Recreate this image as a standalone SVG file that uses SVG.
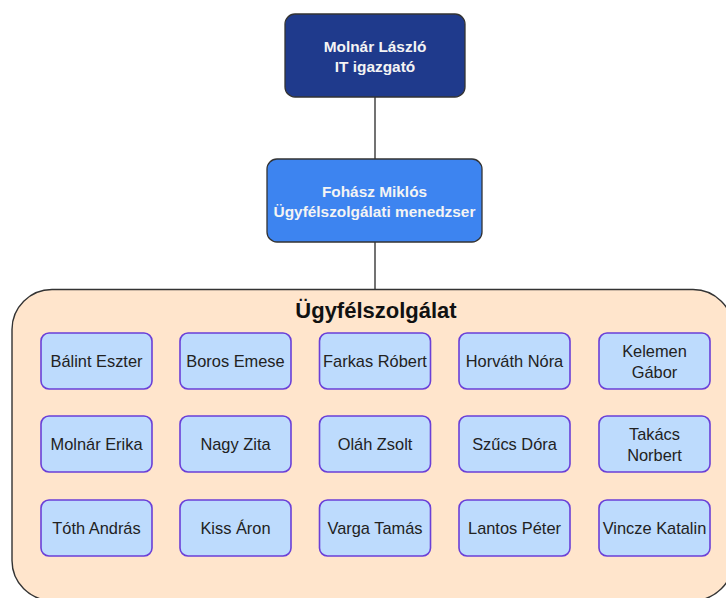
<svg xmlns="http://www.w3.org/2000/svg" width="726" height="598" viewBox="0 0 726 598">
  <style>
    .lead { stroke: #333333; stroke-width: 1.3; }
    .lead-text { font-family: "Liberation Sans", Arial, sans-serif; font-size: 15.4px; font-weight: bold; fill: #f4f4f4; text-anchor: middle; }
    .member rect { fill: #bddbfd; stroke: #6a3fd8; stroke-width: 1.6; }
    .member text { font-family: "Liberation Sans", Arial, sans-serif; font-size: 16.4px; fill: #222222; text-anchor: middle; }
    .edge { stroke: #444444; stroke-width: 1.5; fill: none; }
  </style>

  <!-- connectors -->
  <g id="connectors">
    <line class="edge" x1="375" y1="97" x2="375" y2="159"/>
    <line class="edge" x1="375" y1="242" x2="375" y2="289"/>
  </g>

  <!-- team container -->
  <g id="team">
    <rect x="12" y="289.5" width="721" height="311" rx="40" ry="40" fill="#ffe5cc" stroke="#333333" stroke-width="1.4"/>
    <text x="376" y="318" font-family="'Liberation Sans', Arial, sans-serif" font-size="22px" font-weight="bold" fill="#111111" text-anchor="middle">Ügyfélszolgálat</text>
  </g>

  <g id="director">
    <rect class="lead" x="285" y="14" width="180" height="83" rx="10" ry="10" fill="#1f3a8c"/>
    <text class="lead-text" x="375" y="52">Molnár László</text>
    <text class="lead-text" x="375" y="72">IT igazgató</text>
  </g>

  <g id="manager">
    <rect class="lead" x="267" y="159" width="215" height="83" rx="10" ry="10" fill="#3d84f0"/>
    <text class="lead-text" x="374.5" y="197">Fohász Miklós</text>
    <text class="lead-text" x="374.5" y="217">Ügyfélszolgálati menedzser</text>
  </g>

  <!-- row 1 -->
  <g id="balint-eszter" class="member"><rect x="41" y="333" width="111" height="56" rx="8"/><text x="96.5" y="367">Bálint Eszter</text></g>
  <g id="boros-emese" class="member"><rect x="180" y="333" width="111" height="56" rx="8"/><text x="235.5" y="367">Boros Emese</text></g>
  <g id="farkas-robert" class="member"><rect x="319.5" y="333" width="111" height="56" rx="8"/><text x="375" y="367">Farkas Róbert</text></g>
  <g id="horvath-nora" class="member"><rect x="459" y="333" width="111" height="56" rx="8"/><text x="514.5" y="367">Horváth Nóra</text></g>
  <g id="kelemen-gabor" class="member"><rect x="599" y="333" width="111" height="56" rx="8"/><text x="654.5" y="357">Kelemen</text><text x="654.5" y="378">Gábor</text></g>

  <!-- row 2 -->
  <g id="molnar-erika" class="member"><rect x="41" y="416" width="111" height="56" rx="8"/><text x="96.5" y="450">Molnár Erika</text></g>
  <g id="nagy-zita" class="member"><rect x="180" y="416" width="111" height="56" rx="8"/><text x="235.5" y="450">Nagy Zita</text></g>
  <g id="olah-zsolt" class="member"><rect x="319.5" y="416" width="111" height="56" rx="8"/><text x="375" y="450">Oláh Zsolt</text></g>
  <g id="szucs-dora" class="member"><rect x="459" y="416" width="111" height="56" rx="8"/><text x="514.5" y="450">Szűcs Dóra</text></g>
  <g id="takacs-norbert" class="member"><rect x="599" y="416" width="111" height="56" rx="8"/><text x="654.5" y="440">Takács</text><text x="654.5" y="461">Norbert</text></g>

  <!-- row 3 -->
  <g id="toth-andras" class="member"><rect x="41" y="500" width="111" height="56" rx="8"/><text x="96.5" y="534">Tóth András</text></g>
  <g id="kiss-aron" class="member"><rect x="180" y="500" width="111" height="56" rx="8"/><text x="235.5" y="534">Kiss Áron</text></g>
  <g id="varga-tamas" class="member"><rect x="319.5" y="500" width="111" height="56" rx="8"/><text x="375" y="534">Varga Tamás</text></g>
  <g id="lantos-peter" class="member"><rect x="459" y="500" width="111" height="56" rx="8"/><text x="514.5" y="534">Lantos Péter</text></g>
  <g id="vincze-katalin" class="member"><rect x="599" y="500" width="111" height="56" rx="8"/><text x="654.5" y="534">Vincze Katalin</text></g>
</svg>
